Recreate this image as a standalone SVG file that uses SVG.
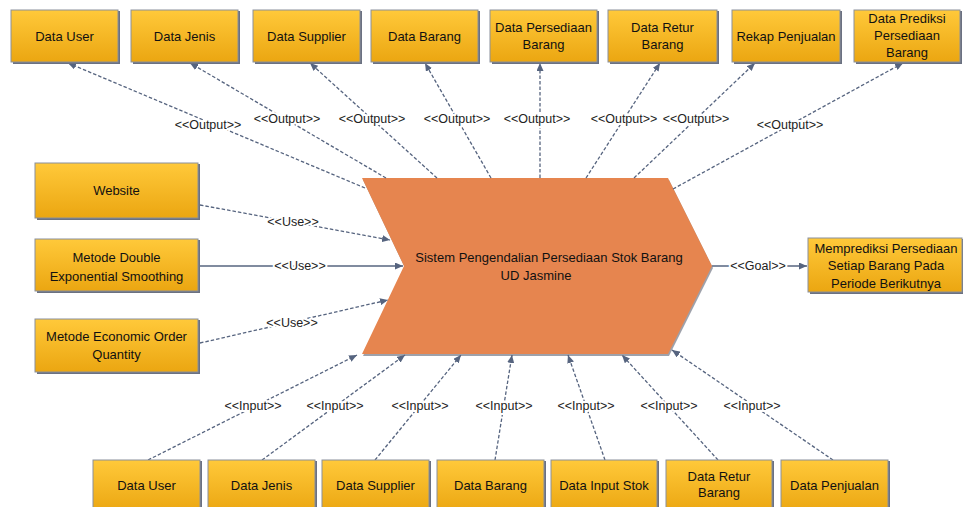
<svg xmlns="http://www.w3.org/2000/svg" width="963" height="507" viewBox="0 0 963 507">
  <defs>
    <linearGradient id="boxFill" x1="0" y1="0" x2="0" y2="1">
      <stop offset="0" stop-color="#FFC93A"/>
      <stop offset="1" stop-color="#EBA611"/>
    </linearGradient>
    <marker id="arrow" viewBox="0 0 8 7" refX="8" refY="3.5" markerWidth="8" markerHeight="7" markerUnits="userSpaceOnUse" orient="auto">
      <path d="M0,0 L8,3.5 L0,7 z" fill="#56647f"/>
    </marker>
    <style>
      .box { fill: url(#boxFill); stroke: #8a909c; stroke-width: 1; }
      .shadow { fill: #6b7181; }
      .txt { font-family: "Liberation Sans", Arial, sans-serif; font-size: 13px; fill: #111; text-anchor: middle; }
      .ctr { font-family: "Liberation Sans", Arial, sans-serif; font-size: 13px; fill: #111; text-anchor: middle; }
      .lbl { font-family: "Liberation Sans", Arial, sans-serif; font-size: 12.5px; fill: #222; text-anchor: middle; dominant-baseline: central; stroke: #fff; stroke-width: 4; paint-order: stroke; stroke-linejoin: round; }
      .dash { fill: none; stroke: #56647f; stroke-width: 1.3; stroke-dasharray: 3.5 2; marker-end: url(#arrow); }
      .solid { fill: none; stroke: #56647f; stroke-width: 1.4; marker-end: url(#arrow); }
    </style>
  </defs>

  <!-- central process shape -->
  <g id="system">
    <polygon points="363,180 669,180 713,268 669,356 363,356 405,268" fill="#9ea1aa"/>
    <polygon points="362,178 668,178 712,266 668,354 362,354 404,266" fill="#E6854F"/>
    <text class="ctr" x="549" y="262">Sistem Pengendalian Persediaan Stok Barang</text>
    <text class="ctr" x="536" y="280">UD Jasmine</text>
  </g>

  <!-- connectors -->
  <g id="connectors">
    <!-- outputs -->
    <path class="dash" d="M365,188 L68,63"/>
    <path class="dash" d="M386,178 L190,63"/>
    <path class="dash" d="M437,178 L310,63"/>
    <path class="dash" d="M491,178 L425,63"/>
    <path class="dash" d="M540,178 L540,63"/>
    <path class="dash" d="M586,178 L660,63"/>
    <path class="dash" d="M634,178 L755,63"/>
    <path class="dash" d="M673,189 L903,63"/>
    <!-- uses -->
    <path class="dash" d="M200,205 L390,240" stroke-dasharray="5 3"/>
    <path class="solid" d="M198,266 L403,266"/>
    <path class="dash" d="M200,343 L388,300" stroke-dasharray="5 3"/>
    <!-- goal -->
    <path class="solid" d="M712,266 L807,266"/>
    <!-- inputs -->
    <path class="dash" d="M148,460 L357,355"/>
    <path class="dash" d="M262,460 L405,355"/>
    <path class="dash" d="M375,460 L461,355"/>
    <path class="dash" d="M495,460 L512,355"/>
    <path class="dash" d="M605,460 L568,355"/>
    <path class="dash" d="M718,460 L622,355"/>
    <path class="dash" d="M833,460 L672,350"/>

    <!-- stereotype labels -->
    <text class="lbl" x="208" y="125">&lt;&lt;Output&gt;&gt;</text>
    <text class="lbl" x="287" y="119">&lt;&lt;Output&gt;&gt;</text>
    <text class="lbl" x="372" y="119">&lt;&lt;Output&gt;&gt;</text>
    <text class="lbl" x="457" y="119">&lt;&lt;Output&gt;&gt;</text>
    <text class="lbl" x="537" y="119">&lt;&lt;Output&gt;&gt;</text>
    <text class="lbl" x="624" y="119">&lt;&lt;Output&gt;&gt;</text>
    <text class="lbl" x="696" y="119">&lt;&lt;Output&gt;&gt;</text>
    <text class="lbl" x="790" y="125">&lt;&lt;Output&gt;&gt;</text>

    <text class="lbl" x="293" y="222">&lt;&lt;Use&gt;&gt;</text>
    <text class="lbl" x="300" y="266">&lt;&lt;Use&gt;&gt;</text>
    <text class="lbl" x="292" y="323">&lt;&lt;Use&gt;&gt;</text>

    <text class="lbl" x="758" y="266">&lt;&lt;Goal&gt;&gt;</text>

    <text class="lbl" x="253" y="406">&lt;&lt;Input&gt;&gt;</text>
    <text class="lbl" x="335" y="406">&lt;&lt;Input&gt;&gt;</text>
    <text class="lbl" x="420" y="406">&lt;&lt;Input&gt;&gt;</text>
    <text class="lbl" x="504" y="406">&lt;&lt;Input&gt;&gt;</text>
    <text class="lbl" x="586" y="406">&lt;&lt;Input&gt;&gt;</text>
    <text class="lbl" x="669" y="406">&lt;&lt;Input&gt;&gt;</text>
    <text class="lbl" x="752" y="406">&lt;&lt;Input&gt;&gt;</text>
  </g>

  <!-- output artefacts -->
  <g id="out-data-user">
    <rect class="shadow" x="13" y="11" width="107" height="53"/>
    <rect class="box" x="11" y="10" width="107" height="52"/>
    <text class="txt" x="64.5" y="40.5">Data User</text>
  </g>
  <g id="out-data-jenis">
    <rect class="shadow" x="133" y="11" width="107" height="53"/>
    <rect class="box" x="131" y="10" width="107" height="52"/>
    <text class="txt" x="184.5" y="40.5">Data Jenis</text>
  </g>
  <g id="out-data-supplier">
    <rect class="shadow" x="255" y="11" width="107" height="53"/>
    <rect class="box" x="253" y="10" width="107" height="52"/>
    <text class="txt" x="306.5" y="40.5">Data Supplier</text>
  </g>
  <g id="out-data-barang">
    <rect class="shadow" x="373" y="11" width="107" height="53"/>
    <rect class="box" x="371" y="10" width="107" height="52"/>
    <text class="txt" x="424.5" y="40.5">Data Barang</text>
  </g>
  <g id="out-data-persediaan">
    <rect class="shadow" x="492" y="11" width="107" height="53"/>
    <rect class="box" x="490" y="10" width="107" height="52"/>
    <text class="txt" x="543.5" y="31.5">Data Persediaan</text>
    <text class="txt" x="543.5" y="48.5">Barang</text>
  </g>
  <g id="out-data-retur">
    <rect class="shadow" x="610" y="11" width="109" height="53"/>
    <rect class="box" x="608" y="10" width="109" height="52"/>
    <text class="txt" x="662.5" y="31.5">Data Retur</text>
    <text class="txt" x="662.5" y="48.5">Barang</text>
  </g>
  <g id="out-rekap-penjualan">
    <rect class="shadow" x="734" y="11" width="108" height="53"/>
    <rect class="box" x="732" y="10" width="108" height="52"/>
    <text class="txt" x="786" y="40.5">Rekap Penjualan</text>
  </g>
  <g id="out-data-prediksi">
    <rect class="shadow" x="856" y="11" width="106" height="53"/>
    <rect class="box" x="854" y="10" width="106" height="52"/>
    <text class="txt" x="907" y="22.5">Data Prediksi</text>
    <text class="txt" x="907" y="39.5">Persediaan</text>
    <text class="txt" x="907" y="56.5">Barang</text>
  </g>

  <!-- means used -->
  <g id="use-website">
    <rect class="shadow" x="37" y="164" width="163" height="56"/>
    <rect class="box" x="35" y="163" width="163" height="55"/>
    <text class="txt" x="116.5" y="195">Website</text>
  </g>
  <g id="use-des">
    <rect class="shadow" x="37" y="240" width="163" height="53"/>
    <rect class="box" x="35" y="239" width="163" height="52"/>
    <text class="txt" x="116.5" y="261.5">Metode Double</text>
    <text class="txt" x="116.5" y="281">Exponential Smoothing</text>
  </g>
  <g id="use-eoq">
    <rect class="shadow" x="37" y="320" width="163" height="54"/>
    <rect class="box" x="35" y="319" width="163" height="53"/>
    <text class="txt" x="116.5" y="340.5">Metode Economic Order</text>
    <text class="txt" x="116.5" y="358.5">Quantity</text>
  </g>

  <!-- goal -->
  <g id="goal">
    <rect class="shadow" x="810" y="239" width="154" height="55"/>
    <rect class="box" x="808" y="238" width="154" height="54"/>
    <text class="txt" x="886" y="252.5">Memprediksi Persediaan</text>
    <text class="txt" x="886" y="270">Setiap Barang Pada</text>
    <text class="txt" x="886" y="287.5">Periode Berikutnya</text>
  </g>

  <!-- input artefacts -->
  <g id="in-data-user">
    <rect class="shadow" x="95" y="461" width="107" height="53"/>
    <rect class="box" x="93" y="460" width="107" height="52"/>
    <text class="txt" x="146.5" y="490">Data User</text>
  </g>
  <g id="in-data-jenis">
    <rect class="shadow" x="210" y="461" width="107" height="53"/>
    <rect class="box" x="208" y="460" width="107" height="52"/>
    <text class="txt" x="261.5" y="490">Data Jenis</text>
  </g>
  <g id="in-data-supplier">
    <rect class="shadow" x="324" y="461" width="107" height="53"/>
    <rect class="box" x="322" y="460" width="107" height="52"/>
    <text class="txt" x="375.5" y="490">Data Supplier</text>
  </g>
  <g id="in-data-barang">
    <rect class="shadow" x="439" y="461" width="107" height="53"/>
    <rect class="box" x="437" y="460" width="107" height="52"/>
    <text class="txt" x="490.5" y="490">Data Barang</text>
  </g>
  <g id="in-data-input-stok">
    <rect class="shadow" x="553" y="461" width="106" height="53"/>
    <rect class="box" x="551" y="460" width="106" height="52"/>
    <text class="txt" x="604" y="490">Data Input Stok</text>
  </g>
  <g id="in-data-retur">
    <rect class="shadow" x="668" y="461" width="106" height="53"/>
    <rect class="box" x="666" y="460" width="106" height="52"/>
    <text class="txt" x="719" y="481">Data Retur</text>
    <text class="txt" x="719" y="497">Barang</text>
  </g>
  <g id="in-data-penjualan">
    <rect class="shadow" x="783" y="461" width="107" height="53"/>
    <rect class="box" x="781" y="460" width="107" height="52"/>
    <text class="txt" x="834.5" y="490">Data Penjualan</text>
  </g>
</svg>
